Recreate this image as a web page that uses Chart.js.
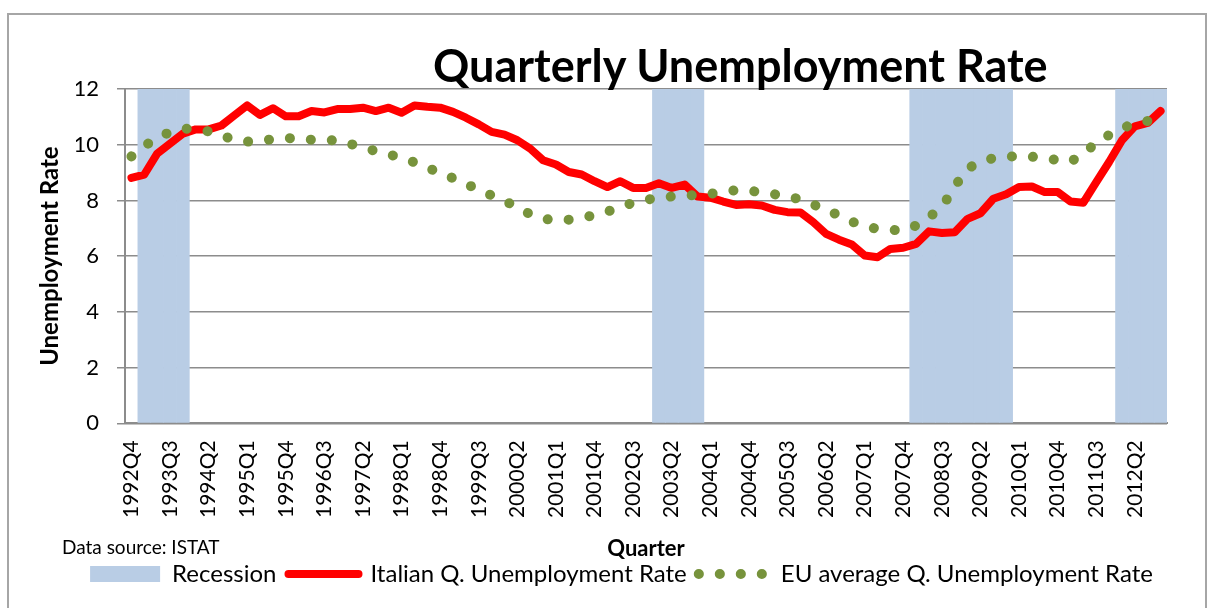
<!DOCTYPE html>
<html>
<head>
<meta charset="utf-8">
<script src="https://cdn.jsdelivr.net/npm/chart.js@4.4.0/dist/chart.umd.min.js"></script>
<style>
  html, body { margin: 0; padding: 0; background: #fff; }
  #wrap { position: relative; width: 1212px; height: 608px; overflow: hidden; }
  #frame { position: absolute; left: 7px; top: 13px; width: 1196px; height: 700px; border: 2px solid #a6a6a6; }
  #title { position: absolute; left: 433px; top: 43px; font: bold 45px/44px Lato; white-space: nowrap; color: #000; }
  #source { position: absolute; left: 62px; top: 537px; font: 19px/20px Lato; white-space: nowrap; color: #000; }
  canvas { position: absolute; left: 0; top: 0; }
</style>
</head>
<body>
<div id="wrap">
  <div id="frame"></div>
  <canvas id="chart" width="1212" height="608"></canvas>
  <div id="title">Quarterly Unemployment Rate</div>
  <div id="source">Data source: ISTAT</div>
</div>
<script>
// categories
const quarters = [
    '1992Q4',
    '1993Q1', '1993Q2', '1993Q3', '1993Q4',
    '1994Q1', '1994Q2', '1994Q3', '1994Q4',
    '1995Q1', '1995Q2', '1995Q3', '1995Q4',
    '1996Q1', '1996Q2', '1996Q3', '1996Q4',
    '1997Q1', '1997Q2', '1997Q3', '1997Q4',
    '1998Q1', '1998Q2', '1998Q3', '1998Q4',
    '1999Q1', '1999Q2', '1999Q3', '1999Q4',
    '2000Q1', '2000Q2', '2000Q3', '2000Q4',
    '2001Q1', '2001Q2', '2001Q3', '2001Q4',
    '2002Q1', '2002Q2', '2002Q3', '2002Q4',
    '2003Q1', '2003Q2', '2003Q3', '2003Q4',
    '2004Q1', '2004Q2', '2004Q3', '2004Q4',
    '2005Q1', '2005Q2', '2005Q3', '2005Q4',
    '2006Q1', '2006Q2', '2006Q3', '2006Q4',
    '2007Q1', '2007Q2', '2007Q3', '2007Q4',
    '2008Q1', '2008Q2', '2008Q3', '2008Q4',
    '2009Q1', '2009Q2', '2009Q3', '2009Q4',
    '2010Q1', '2010Q2', '2010Q3', '2010Q4',
    '2011Q1', '2011Q2', '2011Q3', '2011Q4',
    '2012Q1', '2012Q2', '2012Q3', '2012Q4'
];

// Italian quarterly unemployment rate (%)
const italyRate = [
    8.81,
    8.93, 9.68, 10.04, 10.40,
    10.55, 10.55, 10.69, 11.05,
    11.41, 11.07, 11.31, 11.02,
    11.02, 11.21, 11.16, 11.28,
    11.28, 11.33, 11.21, 11.33,
    11.15, 11.41, 11.36, 11.33,
    11.18, 10.97, 10.73, 10.46,
    10.36, 10.16, 9.86, 9.44,
    9.29, 9.02, 8.93, 8.69,
    8.48, 8.69, 8.45, 8.45,
    8.62, 8.45, 8.57, 8.14,
    8.10, 7.96, 7.84, 7.86,
    7.82, 7.66, 7.58, 7.57,
    7.22, 6.80, 6.59, 6.42,
    6.02, 5.96, 6.26, 6.30,
    6.44, 6.89, 6.83, 6.86,
    7.34, 7.54, 8.06, 8.22,
    8.48, 8.50, 8.30, 8.30,
    7.96, 7.92, 8.66, 9.38,
    10.16, 10.66, 10.78, 11.21
];

// EU average quarterly unemployment rate (%)
const euRate = [
    9.58,
    9.95, 10.25, 10.45, 10.58,
    10.55, 10.48, 10.33, 10.18,
    10.11, 10.14, 10.20, 10.24,
    10.22, 10.18, 10.18, 10.15,
    10.03, 9.90, 9.77, 9.66,
    9.52, 9.37, 9.18, 8.98,
    8.80, 8.59, 8.39, 8.18,
    7.98, 7.77, 7.50, 7.34,
    7.29, 7.31, 7.38, 7.47,
    7.60, 7.76, 7.92, 8.02,
    8.10, 8.14, 8.17, 8.20,
    8.24, 8.30, 8.37, 8.36,
    8.28, 8.22, 8.14, 8.04,
    7.85, 7.69, 7.45, 7.24,
    7.07, 6.98, 6.94, 6.93,
    7.10, 7.40, 7.75, 8.50,
    9.15, 9.38, 9.52, 9.58,
    9.58, 9.57, 9.52, 9.45,
    9.38, 9.70, 10.05, 10.35,
    10.60, 10.75, 10.85, null
];

// quarters shaded as recession
const recessionQuarters = [
    '1993Q1', '1993Q2', '1993Q3', '1993Q4',
    '2003Q1', '2003Q2', '2003Q3', '2003Q4',
    '2008Q1', '2008Q2', '2008Q3', '2008Q4',
    '2009Q1', '2009Q2', '2009Q3', '2009Q4',
    '2012Q1', '2012Q2', '2012Q3', '2012Q4'
];

const yMax = 12;
const yStep = 2;

const recessionBars = quarters.map(q => recessionQuarters.includes(q) ? yMax : null);

Chart.defaults.font.family = 'Lato';
Chart.defaults.color = '#000';

const gridGray = '#8c8c8c';

new Chart(document.getElementById('chart'), {
    type: 'bar',
    data: {
        labels: quarters,
        datasets: [{
            label: 'Recession',
            data: recessionBars,
            backgroundColor: '#b9cde5',
            borderWidth: 0,
            barPercentage: 1,
            categoryPercentage: 1,
            order: 2
        }, {
            type: 'line',
            label: 'Italian Q. Unemployment Rate',
            data: italyRate,
            borderColor: '#ff0000',
            backgroundColor: '#ff0000',
            borderWidth: 8,
            borderJoinStyle: 'round',
            borderCapStyle: 'round',
            pointRadius: 0,
            tension: 0,
            order: 1
        }, {
            type: 'line',
            label: 'EU average Q. Unemployment Rate',
            data: euRate,
            borderColor: '#77933c',
            backgroundColor: '#77933c',
            borderWidth: 10,
            borderDash: [0.1, 20.9],
            borderCapStyle: 'round',
            pointRadius: 0,
            tension: 0,
            order: 0
        }]
    },
    options: {
        responsive: false,
        animation: false,
        // left padding also centres the legend like the original
        layout: { padding: { left: 76, right: 45, top: 89, bottom: 12 } },
        plugins: {
            tooltip: { enabled: false },
            legend: {
                position: 'bottom',
                labels: {
                    font: { size: 24 },
                    usePointStyle: true,
                    pointStyleWidth: 70,
                    boxHeight: 16,
                    padding: 12,
                    generateLabels(chart) {
                        const items = Chart.defaults.plugins.legend.labels.generateLabels(chart);
                        items.forEach(it => {
                            const ds = chart.data.datasets[it.datasetIndex];
                            it.pointStyle = it.datasetIndex === 0 ? 'rect' : 'line';
                            it.lineWidth = ds.borderWidth;
                            it.lineDash = ds.borderDash || [];
                            it.lineCap = ds.borderCapStyle || 'butt';
                        });
                        return items;
                    },
                    sort: (a, b) => a.datasetIndex - b.datasetIndex
                }
            }
        },
        scales: {
            x: {
                afterFit(scale) { scale.paddingLeft = 0; scale.paddingRight = 0; },
                grid: { display: false, drawTicks: false },
                border: { display: true, color: gridGray, width: 2 },
                ticks: {
                    autoSkip: false,
                    maxRotation: 90,
                    minRotation: 90,
                    padding: 17,
                    font: { size: 21 },
                    callback: (v, i) => i % 3 === 0 ? quarters[i] : ''
                },
                title: {
                    display: true,
                    text: 'Quarter',
                    font: { size: 22, weight: 'bold', lineHeight: 1 },
                    padding: { top: 3, bottom: -10 }
                }
            },
            y: {
                min: 0,
                max: yMax,
                afterFit(scale) { scale.width = 49; },
                ticks: { stepSize: yStep, padding: 18, font: { size: 22 } },
                grid: { color: gridGray, lineWidth: 1.5, tickLength: 8 },
                border: { color: gridGray, width: 2 },
                title: {
                    display: true,
                    text: 'Unemployment Rate',
                    font: { size: 24, weight: 'bold' },
                    padding: { top: -40, bottom: 8 }
                }
            }
        }
    }
});
</script>
</body>
</html>
